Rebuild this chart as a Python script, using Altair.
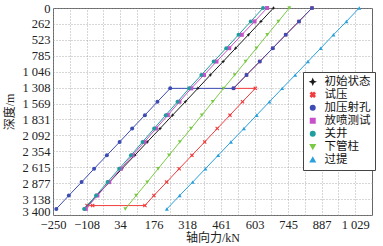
import altair as alt
import pandas as pd

# ---- data ----
series_names = ["初始状态", "试压", "加压射孔", "放喷测试", "关井", "下管柱", "过提"]
series_colors = ["#1a1a1a", "#f03c3c", "#3c4cb4", "#c850c8", "#1f9e9e", "#7ac943", "#2aa0dc"]
star_path = "M0,-1L0.3,-0.3L1,0L0.3,0.3L0,1L-0.3,0.3L-1,0L-0.3,-0.3Z"
x_path = "M-1,-0.6L-0.6,-1L0,-0.4L0.6,-1L1,-0.6L0.4,0L1,0.6L0.6,1L0,0.4L-0.6,1L-1,0.6L-0.4,0Z"
series_shapes = [star_path, x_path, "circle", "square", "circle", "triangle-down", "triangle-up"]

depth_std = [0, 220, 440, 660, 880, 1100, 1320, 1540, 1760, 1980, 2200, 2420, 2640, 2860, 3080, 3300]
force_init = [683, 630, 577, 523, 470, 416, 363, 310, 256, 203, 149, 96, 42, -11, -65, -118]
force_vent = [656, 603, 549, 496, 442, 389, 335, 285, 236, 186, 137, 87, 37, -12, -62, -111]
force_shut = [639, 587, 535, 483, 430, 378, 326, 277, 227, 178, 129, 80, 30, -19, -68, -118]
force_run = [750, 704, 657, 611, 565, 519, 472, 426, 380, 334, 287, 241, 195, 149, 102, 56]
force_pull = [1046, 992, 937, 883, 829, 775, 720, 666, 612, 558, 503, 449, 395, 341, 286, 232]

depth_perf = [0, 220, 440, 660, 880, 1100, 1320, 1320, 1540, 1760, 1980, 2200, 2420, 2640, 2860, 3080, 3300]
force_perf = [846, 791, 735, 680, 625, 569, 514, 246, 192, 139, 85, 32, -22, -76, -129, -183, -236]

depth_test = [0, 220, 440, 660, 880, 1100, 1320, 1320, 1540, 1760, 1980, 2200, 2420, 2640, 2860, 3080, 3245, 3245, 3245]
force_test = [846, 791, 735, 680, 625, 569, 514, 606, 552, 499, 445, 392, 338, 284, 231, 177, 139, -82, -106]

x_tick_labels = [-250, -108, 34, 176, 318, 461, 603, 745, 887, 1029]
x_domain = [-250, 1100]
y_ticks = [0, 262, 523, 785, 1046, 1308, 1569, 1831, 2092, 2354, 2615, 2877, 3138, 3400]

# ---- table ----
rows = []
for name, depths, forces in [
    ("试压", depth_test, force_test),
    ("初始状态", depth_std, force_init),
    ("加压射孔", depth_perf, force_perf),
    ("放喷测试", depth_std, force_vent),
    ("关井", depth_std, force_shut),
    ("下管柱", depth_std, force_run),
    ("过提", depth_std, force_pull),
]:
    for i, (d, f) in enumerate(zip(depths, forces)):
        rows.append({"series": name, "depth": d, "force": f, "idx": i})
df = pd.DataFrame(rows)

# gridlines: labelled ticks plus midpoints
x_grid = []
for a, b in zip(x_tick_labels[:-1], x_tick_labels[1:]):
    x_grid += [a, (a + b) / 2]
x_grid += [x_tick_labels[-1]]

lab_list = "[" + ",".join(str(v) for v in x_tick_labels) + "]"
x_label_expr = f"indexof({lab_list}, datum.value) >= 0 ? replace(format(datum.value, ','), ',', ' ') : ''"

cjk = "'Liberation Serif', 'Noto Sans CJK SC'"
y_last = y_ticks[-1]

x_enc = alt.X(
    "force:Q",
    scale=alt.Scale(domain=x_domain, nice=False, zero=False),
    axis=alt.Axis(values=x_grid, labelExpr=x_label_expr, title="轴向力/kN",
                  labelPadding=3.5, titlePadding=1.5, labelFlush=False, labelOverlap=False),
)
y_enc = alt.Y(
    "depth:Q",
    scale=alt.Scale(domain=[0, 3400], reverse=True, nice=False, zero=False),
    axis=alt.Axis(values=y_ticks, labelExpr="replace(format(datum.value, ','), ',', ' ')",
                  title="深度/m", labelPadding=3, titlePadding=5, labelFlush=False,
                  labelOverlap=False,
                  labelBaseline={"condition": {"test": f"datum.value == {y_last}", "value": "alphabetic"},
                                 "value": "middle"},
                  labelOffset={"condition": {"test": f"datum.value == {y_last}", "value": 0.5},
                               "value": 0}),
)

leg = alt.Legend(orient="none", legendX=250, legendY=64, title=None,
                 strokeColor="#444", fillColor="white", padding=4,
                 symbolSize=20, labelFontSize=11.5, rowPadding=0, labelOffset=6,
                 labelFont=cjk, labelColor="#111")

color_enc = alt.Color("series:N", scale=alt.Scale(domain=series_names, range=series_colors), legend=leg)
shape_enc = alt.Shape("series:N", scale=alt.Scale(domain=series_names, range=series_shapes), legend=leg)

base = alt.Chart(df)
is_test = alt.datum.series == "试压"
not_test = alt.datum.series != "试压"

line_test = base.transform_filter(is_test).mark_line(strokeWidth=1).encode(
    x=x_enc, y=y_enc, color=color_enc, order=alt.Order("idx:Q"))
pts_test = base.transform_filter(is_test).mark_point(filled=True, size=16, opacity=1).encode(
    x=x_enc, y=y_enc, color=color_enc, shape=shape_enc)
line_other = base.transform_filter(not_test).mark_line(strokeWidth=1).encode(
    x=x_enc, y=y_enc, color=color_enc, order=alt.Order("idx:Q"))
pts_other = base.transform_filter(not_test).mark_point(filled=True, size=16, opacity=1).encode(
    x=x_enc, y=y_enc, color=color_enc, shape=shape_enc)

chart = alt.layer(line_test, pts_test, line_other, pts_other).properties(
    width=319, height=207,
    padding={"left": 53, "top": 8, "right": 11, "bottom": 31},
    autosize=alt.AutoSizeParams(type="none"),
    background="white",
).configure_view(stroke="#666", strokeWidth=1).configure_axis(
    grid=True, gridColor="#9a9a9a", gridDash=[1, 2], gridWidth=0.8,
    domain=False, ticks=False,
    labelFont="Liberation Serif", labelFontSize=12.5, labelColor="#222",
    titleFont=cjk, titleFontSize=12, titleFontWeight="normal", titleColor="#222",
)

chart.save("out.html", embed_options={"renderer": "svg", "actions": False})
